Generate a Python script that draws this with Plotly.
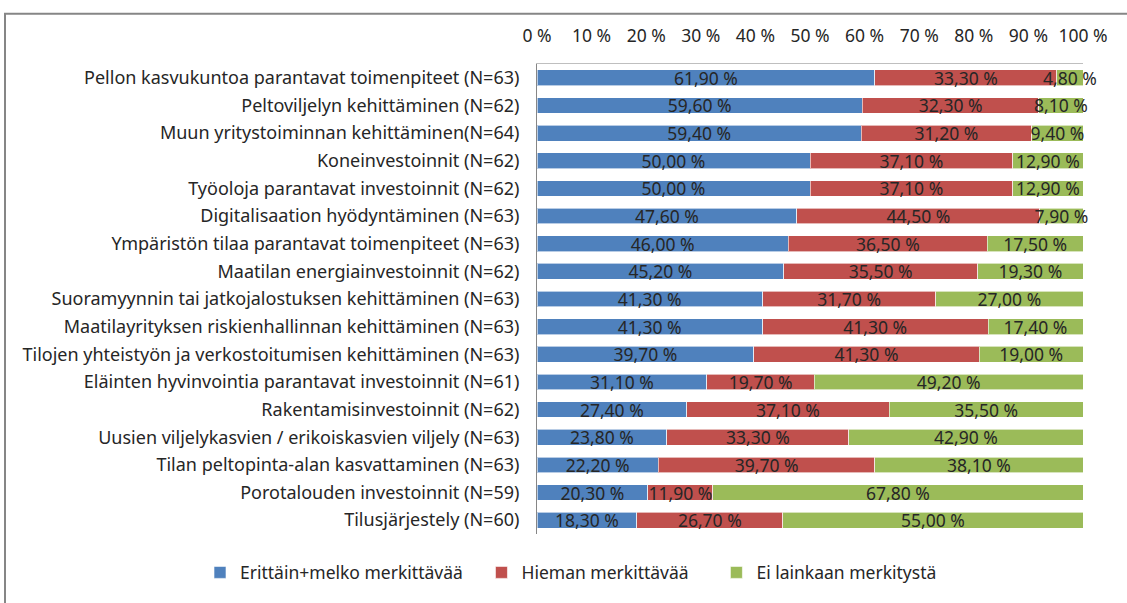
import plotly.graph_objects as go

categories = [
    "Pellon kasvukuntoa parantavat toimenpiteet (N=63)",
    "Peltoviljelyn kehittäminen (N=62)",
    "Muun yritystoiminnan kehittäminen(N=64)",
    "Koneinvestoinnit (N=62)",
    "Työoloja parantavat investoinnit (N=62)",
    "Digitalisaation hyödyntäminen (N=63)",
    "Ympäristön tilaa parantavat toimenpiteet (N=63)",
    "Maatilan energiainvestoinnit (N=62)",
    "Suoramyynnin tai jatkojalostuksen kehittäminen (N=63)",
    "Maatilayrityksen riskienhallinnan kehittäminen (N=63)",
    "Tilojen yhteistyön ja verkostoitumisen kehittäminen (N=63)",
    "Eläinten hyvinvointia parantavat investoinnit (N=61)",
    "Rakentamisinvestoinnit (N=62)",
    "Uusien viljelykasvien / erikoiskasvien viljely (N=63)",
    "Tilan peltopinta-alan kasvattaminen (N=63)",
    "Porotalouden investoinnit (N=59)",
    "Tilusjärjestely (N=60)",
]

erittain = [61.9, 59.6, 59.4, 50.0, 50.0, 47.6, 46.0, 45.2, 41.3, 41.3, 39.7, 31.1, 27.4, 23.8, 22.2, 20.3, 18.3]
hieman = [33.3, 32.3, 31.2, 37.1, 37.1, 44.5, 36.5, 35.5, 31.7, 41.3, 41.3, 19.7, 37.1, 33.3, 39.7, 11.9, 26.7]
ei = [4.8, 8.1, 9.4, 12.9, 12.9, 7.9, 17.5, 19.3, 27.0, 17.4, 19.0, 49.2, 35.5, 42.9, 38.1, 67.8, 55.0]

series_names = ["Erittäin+melko merkittävää", "Hieman merkittävää", "Ei lainkaan merkitystä"]
series_colors = ["#4F81BD", "#C0504D", "#9BBB59"]

tick_vals = [0, 10, 20, 30, 40, 50, 60, 70, 80, 90, 100]
tick_text = ["0 %", "10 %", "20 %", "30 %", "40 %", "50 %", "60 %", "70 %", "80 %", "90 %", "100 %"]

FONT = "Noto Sans"
TXT = "#262626"
FS = 17.5
NB = "\u00a0"
legend_pad = [3, 5, 0]


def fmt(v):
    return f"{v:.2f} %".replace(".", ",")


fig = go.Figure()
for name, vals, col, pad in zip(series_names, [erittain, hieman, ei], series_colors, legend_pad):
    fig.add_trace(go.Bar(
        y=categories, x=vals, name=name + NB * pad, orientation="h",
        marker=dict(color=col, line=dict(color="rgba(255,255,255,0.6)", width=1)),
        text=[fmt(v) for v in vals], textposition="inside",
        insidetextanchor="middle", constraintext="none",
        textfont=dict(family=FONT, size=FS, color=TXT),
        cliponaxis=False,
    ))

W, H = 1127, 603
L, R, T, B = 537, 44, 64, 63
pw, ph = W - L - R, H - T - B

def px_x(p):
    return (p - L) / pw

def px_y(p):
    return (H - B - p) / ph

fig.update_layout(
    width=W, height=H,
    barmode="stack", bargap=0.43,
    margin=dict(l=L, r=R, t=T, b=B),
    plot_bgcolor="white", paper_bgcolor="white",
    font=dict(family=FONT, size=FS, color=TXT),
    xaxis=dict(
        side="top", range=[0, 100], tickvals=tick_vals, ticktext=tick_text,
        showgrid=False, zeroline=False, showline=True, linecolor="#BFBFBF", linewidth=1,
        ticks="outside", ticklen=14, tickcolor="rgba(0,0,0,0)",
        tickfont=dict(family=FONT, size=FS, color=TXT), fixedrange=True,
    ),
    yaxis=dict(
        autorange="reversed", showgrid=False, zeroline=False,
        showline=True, linecolor="#868686", linewidth=1,
        ticks="outside", ticklen=13, tickcolor="rgba(0,0,0,0)",
        tickfont=dict(family=FONT, size=18, color=TXT),
    ),
    legend=dict(
        orientation="h", x=px_x(200), xanchor="left", xref="paper",
        y=px_y(579), yanchor="middle", yref="paper",
        font=dict(family=FONT, size=FS, color=TXT),
        itemwidth=30, traceorder="normal",
    ),
    shapes=[dict(
        type="rect", xref="paper", yref="paper",
        x0=px_x(5), x1=px_x(W + 10), y0=px_y(H + 10), y1=px_y(13),
        line=dict(color="#868686", width=2), fillcolor="rgba(0,0,0,0)", layer="below",
    )],
)

fig.write_html("out.html", config={"displayModeBar": False},
               post_script="document.body.style.margin='0px';")
